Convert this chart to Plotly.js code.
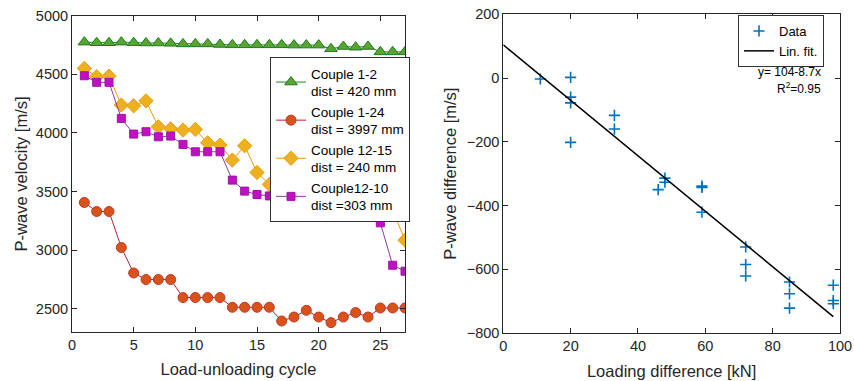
<!DOCTYPE html>
<html>
<head>
<meta charset="utf-8">
<script src="https://cdn.plot.ly/plotly-3.0.1.min.js"></script>
<style>html,body{margin:0;padding:0;background:#fff;}#chart{width:854px;height:381px;}</style>
</head>
<body>
<div id="chart"></div>
<script>
// ---- Data: left panel (P-wave velocity per load-unloading cycle) ----
var cycles = [1,2,3,4,5,6,7,8,9,10,11,12,13,14,15,16,17,18,19,20,21,22,23,24,25,26,27];
var couple1_2  = [4775,4770,4770,4775,4770,4768,4768,4765,4760,4760,4760,4755,4752,4752,4752,4752,4752,4750,4750,4750,4718,4738,4732,4738,4692,4692,4692];
var couple1_24 = [3406,3329,3329,3021,2804,2748,2748,2748,2594,2594,2594,2594,2511,2511,2511,2511,2394,2428,2485,2428,2380,2428,2466,2428,2505,2505,2505];
var couple12_15 = [4551,4480,4485,4238,4232,4274,4052,4035,4024,4030,3915,3896,3768,3890,3662,3560,3432,3440,3397,3397,3383,3420,3320,3320,3312,3340,3084];
var couple12_10 = [4488,4432,4432,4124,3990,4010,3967,3973,3902,3839,3839,3839,3597,3503,3474,3462,3490,3483,3468,3474,3403,3403,3409,3417,3232,2870,2819];
var leftNames = ["Couple 1-2<br>dist = 420 mm","Couple 1-24<br>dist = 3997 mm","Couple 12-15<br>dist = 240 mm","Couple12-10<br>dist =303 mm"];
var leftTicks = [0,5,10,15,20,25];
var leftYTicks = [2500,3000,3500,4000,4500,5000];

// ---- Data: right panel (P-wave difference vs loading difference) ----
var loadDiff  = [11,20,20,20,20,33,33,46,48,48,59,59,59,72,72,72,85,85,85,98,98,98];
var pwaveDiff = [-3,2,-60,-78,-202,-117,-160,-350,-314,-327,-339,-343,-421,-530,-585,-621,-640,-677,-722,-650,-698,-708];
var fitIntercept = 104;
var fitSlope = -8.7;
var fitRange = [0, 98];
var rightXTicks = [0,20,40,60,80,100];
var rightYTicks = [-800,-600,-400,-200,0,200];

var fitX = fitRange.slice();
var fitY = fitX.map(function(x){ return fitIntercept + fitSlope * x; });

var FONT = "Liberation Sans, Arial, Helvetica, sans-serif";
var AX = "#262626";

var traces = [
  {x: cycles, y: couple1_2, name: leftNames[0], mode: "lines+markers", xaxis: "x", yaxis: "y", legend: "legend",
   line: {color: "#1f8a1f", width: 1}, marker: {symbol: "triangle-up", size: 11, color: "#5aa532", line: {color: "#1f7a1f", width: 1}}},
  {x: cycles, y: couple1_24, name: leftNames[1], mode: "lines+markers", xaxis: "x", yaxis: "y", legend: "legend",
   line: {color: "#b5203a", width: 1}, marker: {symbol: "circle", size: 10, color: "#d95319", line: {color: "#c0392b", width: 1}}},
  {x: cycles, y: couple12_15, name: leftNames[2], mode: "lines+markers", xaxis: "x", yaxis: "y", legend: "legend",
   line: {color: "#f0960f", width: 1}, marker: {symbol: "diamond", size: 11, color: "#edb120", line: {color: "#e8a010", width: 1}}},
  {x: cycles, y: couple12_10, name: leftNames[3], mode: "lines+markers", xaxis: "x", yaxis: "y", legend: "legend",
   line: {color: "#8e3e9e", width: 1}, marker: {symbol: "square", size: 8, color: "#c010c0", line: {color: "#a010b0", width: 1}}},
  {x: loadDiff, y: pwaveDiff, name: "Data", mode: "markers", xaxis: "x2", yaxis: "y2", legend: "legend2",
   marker: {symbol: "cross-thin", size: 8, color: "#0072bd", line: {color: "#0072bd", width: 1.6}}},
  {x: fitX, y: fitY, name: "Lin. fit.", mode: "lines", xaxis: "x2", yaxis: "y2", legend: "legend2",
   line: {color: "#000000", width: 1.5}}
];

var W = 854, H = 381;
function fx(p){ return p / W; }
function fy(p){ return 1 - p / H; }

var axisCommon = {
  showline: true, linecolor: AX, linewidth: 1, mirror: "allticks",
  ticks: "inside", ticklen: 5, tickcolor: AX, tickwidth: 1,
  showgrid: false, zeroline: false,
  tickfont: {family: FONT, size: 14.5, color: AX},
  title: {font: {family: FONT, size: 16.5, color: AX}}
};
function ax(extra){
  var o = JSON.parse(JSON.stringify(axisCommon));
  for (var k in extra){
    if (k === "title") { o.title.text = extra.title; }
    else if (k === "standoff") { o.title.standoff = extra.standoff; }
    else o[k] = extra[k];
  }
  return o;
}

var layout = {
  width: W, height: H,
  margin: {l: 0, r: 0, t: 0, b: 0},
  paper_bgcolor: "#ffffff", plot_bgcolor: "#ffffff",
  font: {family: FONT, color: AX},
  showlegend: true,
  xaxis: ax({domain: [fx(72), fx(405)], range: [0, 27], tickvals: leftTicks, anchor: "y", title: "Load-unloading cycle", standoff: 11}),
  yaxis: ax({domain: [fy(332), fy(15.8)], range: [2300, 5000], tickvals: leftYTicks, anchor: "x", title: "P-wave velocity [m/s]", standoff: 4}),
  xaxis2: ax({domain: [fx(503.3), fx(840)], range: [0, 100], tickvals: rightXTicks, anchor: "y2", title: "Loading difference [kN]", standoff: 12}),
  yaxis2: ax({domain: [fy(333), fy(14.3)], range: [-800, 200], tickvals: rightYTicks, anchor: "x2", title: "P-wave difference [m/s]", standoff: 5}),
  legend: {x: fx(270), y: fy(57), xanchor: "left", yanchor: "top", bgcolor: "#ffffff", bordercolor: "#333333", borderwidth: 1,
           font: {family: FONT, size: 13.5, color: "#000"}, tracegroupgap: 0, itemwidth: 30},
  legend2: {x: fx(738), y: fy(15), xanchor: "left", yanchor: "top", bgcolor: "#ffffff", bordercolor: "#333333", borderwidth: 1,
           font: {family: FONT, size: 13, color: "#000"}, tracegroupgap: 0, itemwidth: 30},
  annotations: [
    {xref: "paper", yref: "paper", x: fx(823), y: fy(72), xanchor: "right", yanchor: "middle", showarrow: false,
     text: "y= 104-8.7x", font: {family: FONT, size: 12, color: "#000"}},
    {xref: "paper", yref: "paper", x: fx(823), y: fy(88), xanchor: "right", yanchor: "middle", showarrow: false,
     text: "R<sup>2</sup>=0.95", font: {family: FONT, size: 12, color: "#000"}}
  ]
};

Plotly.newPlot("chart", traces, layout, {displayModeBar: false, staticPlot: true});
</script>
</body>
</html>
